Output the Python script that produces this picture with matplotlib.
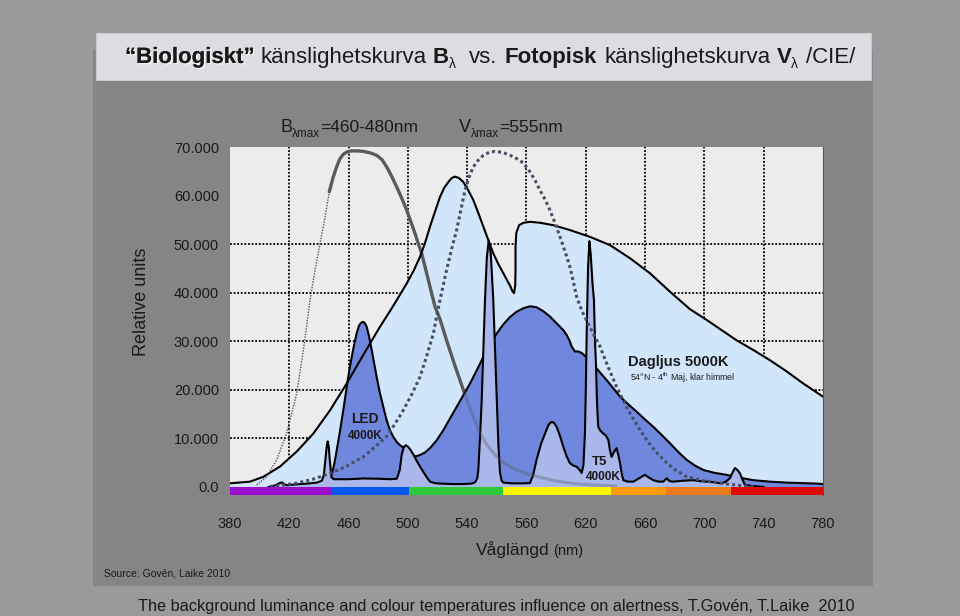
import numpy as np
import matplotlib
matplotlib.use('Agg')
import matplotlib.pyplot as plt
from matplotlib.patches import Rectangle
import matplotlib.patheffects as pe

# --- data (wavelength nm / relative units) ---
xtick_vals = [380, 420, 460, 500, 540, 580, 620, 660, 700, 740, 780]
xtick_labels = ['380', '420', '460', '500', '540', '560', '620', '660', '700', '740', '780']
ytick_vals = [0, 10, 20, 30, 40, 50, 60, 70]
ytick_labels = ['0.0', '10.000', '20.000', '30.000', '40.000', '50.000', '60.000', '70.000']
grid_y = [10, 20, 30, 40, 50]

band_edges = [380, 449, 501, 564, 637, 674, 718, 780]
band_colors = ['#9b0fcc', '#0a57ee', '#2ec938', '#fdf600', '#fb9a0e', '#ee7a1c', '#dd0a0a']

# daylight 5000K
day_wl = [380, 393.5, 402.5, 413.7, 425.0, 436.2, 447.5, 458.7, 469.9, 481.2,
          488.5, 493.5, 499.2, 504, 508.2, 511.8, 514.9, 518.3, 521.6, 524.5,
          527.3, 529.5, 531.8, 534.5, 537.4, 540.5, 544.1, 547.5, 550.9, 554.3,
          557.6, 561, 564.4, 567, 569.0, 570.5, 571.6, 572.4, 572.6, 572.6,
          573.1, 575.0, 578.0, 582.4, 589.1, 598.1, 609.3, 622.8, 636.3, 649.8,
          663.3, 676.8, 690.3, 701.5, 711.6, 721.7, 733, 744.2, 755.5, 766.7, 780]
day_val = [0.75, 1.1, 2.1, 4.2, 7.3, 11.0, 15.8, 21.3, 27.2, 33.0,
           36.5, 39.0, 41.9, 44.6, 47.4, 50.5, 53.6, 56.7, 59.7, 61.6,
           62.8, 63.6, 63.9, 63.6, 62.8, 61.2, 59.1, 56.4, 53.6, 50.8,
           48.1, 45.9, 44.0, 42.5, 41.4, 40.3, 39.9, 41.5, 45.0, 49.5,
           52.3, 53.9, 54.4, 54.6, 54.4, 53.9, 52.9, 51.5, 49.8, 47.1,
           44.0, 40.2, 36.6, 34.4, 32.3, 30.2, 28.2, 26.1, 23.8, 21.3, 18.6]

# LED 4000K
led_wl = [440, 446, 448.6, 450.5, 452.0, 454.2, 456.4, 458.7, 460.9, 463.2,
          465.4, 467.0, 468.4, 469.9, 471.0, 472.2, 473.8, 475.6, 478.9, 481.0,
          483.4, 485.6, 487.9, 490.2, 492.4, 495.0, 498.0, 502.5, 505.5, 508.2,
          511.5, 514.9, 519.4, 523.9, 528.4, 532.9, 537.4, 541.9, 546.4, 550.9,
          555.4, 559.9, 564.4, 568.9, 573.4, 577.9, 582.4, 586.8, 591.3, 595.8,
          600.3, 604.8, 607.1, 608.9, 610.5, 612.7, 615.0, 617.2, 619.4, 622.8,
          626.2, 630.1, 634.1, 638.6, 643.1, 648.7, 654.3, 659.9, 665.5, 671.2,
          676.8, 682.4, 688.0, 693.7, 699.3, 707.0, 715.0, 724.0, 733.0, 744.0,
          755.5, 775.7, 780]
led_val = [0.3, 0.9, 2.5, 5.0, 7.6, 11.5, 15.8, 20.5, 24.8, 28.5,
           31.6, 33.2, 33.8, 34.0, 33.7, 33.0, 31.0, 28.2, 22.7, 19.5,
           16.5, 13.8, 11.7, 10.3, 9.3, 8.5, 8.0, 6.6, 6.3, 6.6,
           7.1, 8.0, 9.6, 11.7, 14.1, 16.5, 18.9, 21.3, 24.0, 26.8,
           29.3, 31.6, 33.5, 35.0, 36.1, 36.8, 37.2, 37.0, 36.2, 35.1,
           33.7, 32.3, 31.3, 30.2, 28.9, 27.9, 27.9, 27.6, 27.0, 25.9,
           24.8, 23.4, 22.0, 20.3, 18.6, 17.0, 15.5, 13.9, 12.4, 10.7,
           9.0, 7.2, 5.6, 4.4, 3.5, 2.9, 2.5, 1.9, 1.4, 1.1,
           0.9, 0.7, 0.6]

# T5 4000K
t5_wl = [406, 408.1, 411, 413.5, 414.9, 416.5, 418.2, 425, 432, 438.5,
         442.0, 443.3, 444.3, 445.3, 445.9, 446.6, 447.4, 448.4, 450, 460,
         470, 480, 488, 492.5, 494.5, 495.8, 497.2, 498.5, 500.0, 501.4,
         503.5, 505.9, 508.2, 510.4, 512.7, 514.9, 518, 521.6, 530, 537.4,
         543, 545.3, 546.8, 547.5, 548.6, 549.8, 550.9, 552.0, 553.2, 554.5,
         555.9, 557.0, 557.6, 558.8, 559.9, 561.0, 562.1, 563.2, 564.4, 570,
         577.9, 582.3, 584.5, 586.8, 589.7, 592.5, 595.0, 596.9, 598.6, 600.3,
         602.6, 604.8, 607.1, 609.3, 611.6, 613.8, 615.8, 617.2, 618.4, 619.4,
         620.0, 620.6, 621.5, 622.4, 623.3, 624.5, 625.5, 626.2, 626.9, 627.6,
         628.4, 629.8, 631.8, 633.5, 635.2, 636.3, 637.4, 639.0, 640.8, 642.0,
         643.1, 644.2, 645.3, 648.5, 652.1, 656, 659.9, 662.7, 665.5, 669,
         672.3, 674.5, 676.5, 679, 686, 692.5, 697, 701.5, 706, 710.5,
         714, 717.2, 719.0, 720.6, 722.3, 724.0, 725.7, 727.4, 733, 740]
t5_val = [0.0, 0.1, 0.4, 0.8, 0.95, 0.6, 0.35, 0.55, 0.7, 0.9,
          1.3, 2.5, 5.5, 8.5, 9.4, 8.3, 5.2, 2.0, 1.6, 1.6,
          1.75, 1.7, 1.6, 1.7, 3.5, 6.6, 8.2, 8.6, 8.3, 7.8,
          6.8, 5.4, 4.2, 3.1, 2.0, 1.1, 0.8, 0.7, 0.6, 0.6,
          0.7, 0.95, 1.8, 3.5, 10, 18, 28, 38.5, 47, 50.8,
          48, 42, 38.5, 28, 18, 9, 3.0, 1.3, 0.9, 0.75,
          0.75, 0.8, 2.5, 5.6, 8.8, 11.0, 12.9, 13.4, 13.2, 12.4,
          10.5, 8.3, 6.3, 4.9, 4.4, 4.2, 3.5, 2.9, 4.5, 11.0,
          20, 31.6, 45, 50.6, 48, 42, 38.5, 30, 24.8, 17,
          12.4, 11.6, 11.0, 10.6, 9.7, 7.5, 6.2, 7.2, 8.0, 6.5,
          4.9, 2.8, 1.4, 1.1, 1.1, 1.8, 2.5, 1.9, 1.4, 1.1,
          1.1, 1.8, 1.2, 1.1, 1.3, 1.4, 1.2, 1.1, 1.0, 0.75,
          1.0, 1.8, 3.0, 3.9, 3.5, 2.8, 1.5, 0.4, 0.2, 0.0]

# B lambda (biological), left thin dotted part and solid part
bthin_wl = [398.0, 404.7, 411.5, 418.2, 425.0, 429.5, 434.0, 436.2, 440.7, 444.1, 447.0]
bthin_val = [0.4, 2.1, 5.6, 11.0, 19.3, 28.2, 38.5, 42.6, 50.1, 55.5, 60.8]
b_wl = [447.0, 449.5, 451.9, 454.0, 456.4, 459.0, 462.1, 466.0, 469.9, 474.5,
        478.9, 482.5, 485.7, 489.0, 492.4, 495.8, 499.2, 502.0, 504.8, 507.0,
        509.3, 511.5, 513.8, 516.0, 518.3, 521.6, 526.1, 531.7, 537.4, 543.0,
        548.6, 554.2, 559.9, 566.6, 573.4, 582.4, 589.1, 596, 602.6, 610,
        616.1, 625, 631.8, 640]
b_val = [60.8, 63.7, 65.9, 67.5, 68.5, 69.0, 69.2, 69.2, 69.1, 68.8,
         68.3, 67.4, 65.9, 64.0, 61.8, 59.5, 57.0, 54.6, 52.2, 50.1,
         48.1, 45.4, 42.6, 39.9, 37.1, 34.6, 30.2, 25.0, 20.0, 15.2,
         11.0, 8.3, 6.2, 4.6, 3.5, 2.5, 2.0, 1.5, 1.1, 0.8,
         0.6, 0.4, 0.3, 0.2]

# V lambda (photopic, CIE)
v_wl = [407.0, 416, 425.0, 436, 447.5, 458.7, 469.9, 478, 485.7, 491.3,
        496.9, 502.5, 508.2, 512.7, 517.2, 519.5, 522.0, 526.1, 529.5, 532.9,
        535.7, 538.5, 541.3, 544.1, 547.5, 550.9, 554.8, 558.7, 563.8, 568.9,
        573.4, 577.9, 582.3, 585.7, 589.1, 592.5, 595.8, 599.2, 602.6, 606.0,
        609.3, 611.6, 613.8, 617.2, 621.7, 629.6, 635.2, 640.8, 645.3, 649.8,
        655.4, 661.0, 666.6, 672.3, 680, 688.0, 699, 710.5, 724, 735]
v_val = [0.1, 0.4, 0.8, 1.6, 2.8, 4.3, 6.2, 8.3, 10.4, 13.0,
         15.8, 19.0, 22.7, 27.0, 31.6, 35.3, 39.0, 44.7, 49.0, 52.9,
         57.0, 61.1, 63.8, 65.9, 67.3, 68.3, 68.9, 69.1, 68.9, 68.3,
         67.6, 66.7, 64.9, 63.2, 61.1, 59.2, 57.0, 54.4, 51.5, 48.5,
         45.3, 42.3, 39.2, 36.4, 33.5, 28.9, 24.6, 20.6, 17.8, 15.2,
         12.3, 9.7, 7.5, 5.6, 3.6, 2.1, 1.3, 0.8, 0.3, 0.1]

# --- figure ---
W, H = 960, 616
plt.rcParams['font.family'] = ['Liberation Sans', 'DejaVu Sans']
plt.rcParams['mathtext.fontset'] = 'custom'
plt.rcParams['mathtext.rm'] = 'Liberation Sans'
plt.rcParams['mathtext.it'] = 'Liberation Sans:italic'
plt.rcParams['mathtext.bf'] = 'Liberation Sans:bold'

TXT = '#1a1a1a'
fig = plt.figure(figsize=(9.6, 6.16), dpi=100, facecolor='#9a9a9a')


def fpos(x, y):
    return x / W, 1 - y / H


# dark panel and title box (behind the axes)
fig.patches.append(Rectangle(fpos(93, 586), 780 / W, 536 / H, transform=fig.transFigure,
                             facecolor='#858585', edgecolor='none', zorder=-2))
fig.patches.append(Rectangle(fpos(96, 80), 775 / W, 47 / H, transform=fig.transFigure,
                             facecolor='#dcdde2', edgecolor='#c9c9cd', lw=0.8, zorder=-1))

ax = fig.add_axes([230 / W, 1 - 495 / H, 593 / W, 348 / H])
ax.set_zorder(2)
ax.set_facecolor('#ececec')
ax.set_xlim(380, 780)
ax.set_ylim(-1.65, 70)
for s in ['top', 'left', 'bottom']:
    ax.spines[s].set_visible(False)
ax.spines['right'].set_color('#555555')
ax.spines['right'].set_linewidth(0.8)

for v in xtick_vals[1:-1]:
    ax.axvline(v, color='k', lw=1.3, ls=(0, (1, 1)), zorder=0.5)
for v in grid_y:
    ax.axhline(v, color='k', lw=1.3, ls=(0, (1, 1)), zorder=0.5)

# spectra
ax.fill_between(day_wl, 0, day_val, color='#d1e6fb', lw=0, zorder=1)
ax.plot(b_wl, b_val, color='#5a5a5a', lw=2.3, zorder=1.5, solid_capstyle='round')
ax.fill_between(led_wl, 0, led_val, color='#6f88de', lw=0, zorder=2)
ax.plot(led_wl, led_val, color='k', lw=1.5, zorder=2.1)
ax.fill_between(t5_wl, 0, t5_val, color='#a9b7ea', lw=0, zorder=3)
ax.plot(t5_wl, t5_val, color='k', lw=1.5, zorder=3.1)
ax.plot(b_wl, b_val, color='#5a5a5a', lw=2.3, alpha=0.35, zorder=3.5)
ax.plot(day_wl, day_val, color='k', lw=1.5, zorder=4)
ax.plot(bthin_wl, bthin_val, color='#555555', lw=1.0, ls=(0, (1, 1)), zorder=5)
ax.plot(v_wl, v_val, color='#474e66', lw=2.2, ls=(0, (1, 1)), zorder=5)

# colour spectrum strip under the zero line
ax.bar(band_edges[:-1], 1.65, width=np.diff(band_edges), bottom=-1.65, align='edge',
       color=band_colors, lw=0, zorder=6)

ax.text(471, 14.0, 'LED', fontsize=10, fontweight='bold', ha='center', va='center', color=TXT, zorder=7)
ax.text(471, 10.5, '4000K', fontsize=8.5, fontweight='bold', ha='center', va='center', color=TXT, zorder=7)
ax.text(629.6, 5.1, 'T5', fontsize=9.5, fontweight='bold', ha='center', va='center', color=TXT, zorder=7)
ax.text(631.6, 2.1, '4000K', fontsize=8.5, fontweight='bold', ha='center', va='center', color=TXT, zorder=7)
ax.text(648.5, 25.7, 'Dagljus 5000K', fontsize=10.5, fontweight='bold', ha='left', va='center', color=TXT, zorder=7)
ax.text(649.5, 22.4, '54°N - 4$^{\\mathrm{th}}$ Maj, klar himmel', fontsize=6.3, ha='left', va='center',
        color=TXT, zorder=7)

ax.set_xticks(xtick_vals, xtick_labels)
ax.set_yticks(ytick_vals, ytick_labels)
ax.tick_params(axis='x', length=0, pad=16, labelsize=10.5, labelcolor=TXT)
ax.tick_params(axis='y', length=0, pad=8, labelsize=10.5, labelcolor=TXT)

renderer = fig.canvas.get_renderer()


def text_run(x_px, base_px, pieces):
    # pieces: (text, size, weight, drop_px, gap_px)
    x = x_px
    for s, size, weight, drop, gap, *extra in pieces:
        kw = extra[0] if extra else {}
        x0, y0 = fpos(x, base_px + drop)
        t = fig.text(x0, y0, s, fontsize=size, fontweight=weight, ha='left', va='baseline',
                     color=TXT, zorder=3, **kw)
        x += t.get_window_extent(renderer).width + gap


shadow = {'path_effects': [pe.withSimplePatchShadow(offset=(1.0, -1.0), shadow_rgbFace='white', alpha=0.8),
                           pe.Normal()]}
text_run(125, 63, [
    ('“Biologiskt”', 16, 'bold', 0, 6, shadow),
    ('känslighetskurva', 16, 'normal', 0, 6),
    ('B', 16, 'bold', 0, 0),
    ('λ', 10, 'normal', 5, 13),
    ('vs.', 16, 'normal', 0, 8),
    ('Fotopisk', 16, 'bold', 0, 7),
    ('känslighetskurva', 16, 'normal', 0, 6),
    ('V', 16, 'bold', 0, 0),
    ('λ', 10, 'normal', 5, 8),
    ('/CIE/', 16, 'normal', 0, 0),
])

text_run(280, 132, [('B', 13, 'normal', 0, 0), ('λmax', 8.5, 'normal', 5, 0), ('=460-480nm', 12.5, 'normal', 0, 0)])
text_run(459, 132, [('V', 13, 'normal', 0, 0), ('λmax', 8.5, 'normal', 5, 0), ('=555nm', 12.5, 'normal', 0, 0)])
text_run(476, 555, [('Våglängd', 12.5, 'normal', 0, 4), ('(nm)', 10.5, 'normal', 0, 0)])

fig.text(*fpos(142, 302), 'Relative units', rotation=90, fontsize=13, ha='center', va='center', color=TXT)
fig.text(*fpos(104, 577), 'Source: Govén, Laike 2010', fontsize=7.5, ha='left', va='baseline', color=TXT)
fig.text(*fpos(496, 611), 'The background luminance and colour temperatures influence on alertness, '
         'T.Govén, T.Laike  2010', fontsize=11.7, ha='center', va='baseline', color=TXT)

fig.savefig('out.png', dpi=100, facecolor=fig.get_facecolor())
